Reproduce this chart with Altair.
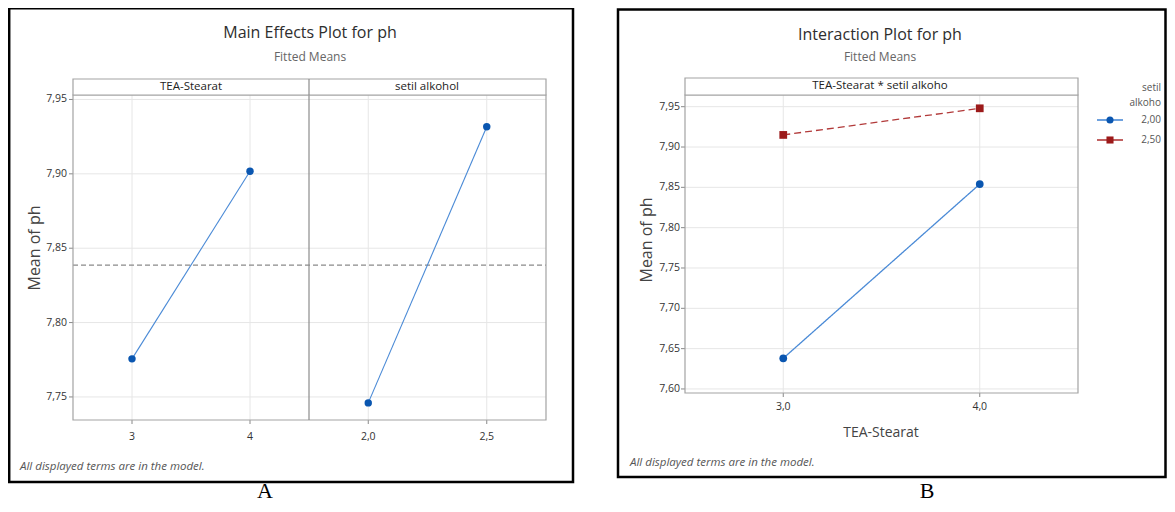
import altair as alt
import pandas as pd

# ---------------- data ----------------
tea_levels = [3, 4]
tea_means = [7.7756, 7.9017]
setil_levels = [2.0, 2.5]
setil_means = [7.7460, 7.9316]
grand_mean = [7.8386]

inter_x = [3, 4]
series_names = ["2,00", "2,50"]
series_200 = [7.638, 7.854]
series_250 = [7.915, 7.948]

a_y_ticks = [7.75, 7.80, 7.85, 7.90, 7.95]
a_y_labels = ["7,75", "7,80", "7,85", "7,90", "7,95"]
tea_ticks = [3, 4]
tea_tick_labels = ["3", "4"]
setil_ticks = [2.0, 2.5]
setil_tick_labels = ["2,0", "2,5"]
b_y_ticks = [7.60, 7.65, 7.70, 7.75, 7.80, 7.85, 7.90, 7.95]
b_y_labels = ["7,60", "7,65", "7,70", "7,75", "7,80", "7,85", "7,90", "7,95"]
b_x_ticks = [3, 4]
b_x_labels = ["3,0", "4,0"]

# ---------------- layout (reference pixel coords) ----------------
OFF = 8
def px(v):
    return v - OFF

W, H = 1159, 496
SANS = "Open Sans"
SERIF = "Liberation Serif"

A_L, A_MID, A_R, A_TOP, A_BOT = 73, 309, 546, 95, 420
B_L, B_R, B_TOP, B_BOT = 685, 1078, 95, 393

ya = alt.Scale(domain=[7.7345, 7.953], range=[px(A_BOT), px(A_TOP)], nice=False, zero=False)
xa1 = alt.Scale(domain=[2.5, 4.5], range=[px(A_L), px(A_MID)], nice=False, zero=False)
xa2 = alt.Scale(domain=[1.75, 2.75], range=[px(A_MID), px(A_R)], nice=False, zero=False)
yb = alt.Scale(domain=[7.595, 7.9645], range=[px(B_BOT), px(B_TOP)], nice=False, zero=False)
xb = alt.Scale(domain=[2.5, 4.5], range=[px(B_L), px(B_R)], nice=False, zero=False)

GRID = "#e6e6e6"
FRAME = "#a3a3a3"


def one():
    return alt.Chart(pd.DataFrame({"k": [0]}))


def txt(t, x, y, size, font=SANS, color="#333333", align="center", angle=None, style=None):
    kw = dict(text=t, fontSize=size, font=font, color=color, align=align, baseline="middle")
    if angle is not None:
        kw["angle"] = angle
    if style is not None:
        kw["fontStyle"] = style
    return one().mark_text(**kw).encode(x=alt.value(px(x)), y=alt.value(px(y)))


def box(x1, y1, x2, y2, stroke, sw, fill=None):
    kw = dict(stroke=stroke, strokeWidth=sw)
    if fill is None:
        kw["fill"] = "white"
        kw["fillOpacity"] = 0
    else:
        kw["fill"] = fill
    return one().mark_rect(**kw).encode(
        x=alt.value(px(x1)), x2=alt.value(px(x2)), y=alt.value(px(y1)), y2=alt.value(px(y2)))


def seg(x1, y1, x2, y2, color, sw, dash=None):
    kw = dict(color=color, strokeWidth=sw)
    if dash is not None:
        kw["strokeDash"] = dash
    return one().mark_rule(**kw).encode(
        x=alt.value(px(x1)), x2=alt.value(px(x2)), y=alt.value(px(y1)), y2=alt.value(px(y2)))


def ygrid(ticks, labels, yscale, xl, xr, lab_x):
    df = pd.DataFrame({"v": ticks, "lab": labels})
    base = alt.Chart(df)
    g = base.mark_rule(color=GRID, strokeWidth=1).encode(
        y=alt.Y("v:Q", scale=yscale, axis=None), x=alt.value(px(xl)), x2=alt.value(px(xr)))
    t = base.mark_rule(color="#888888", strokeWidth=1).encode(
        y=alt.Y("v:Q", scale=yscale, axis=None), x=alt.value(px(xl - 4)), x2=alt.value(px(xl)))
    l = base.mark_text(align="right", baseline="middle", fontSize=10.5, font=SANS, color="#333333").encode(
        y=alt.Y("v:Q", scale=yscale, axis=None), x=alt.value(px(lab_x)), text="lab:N")
    return [g, t, l]


def xgrid(ticks, labels, xscale, yt, yb_, lab_y):
    df = pd.DataFrame({"v": ticks, "lab": labels})
    base = alt.Chart(df)
    g = base.mark_rule(color=GRID, strokeWidth=1).encode(
        x=alt.X("v:Q", scale=xscale, axis=None), y=alt.value(px(yt)), y2=alt.value(px(yb_)))
    t = base.mark_rule(color="#888888", strokeWidth=1).encode(
        x=alt.X("v:Q", scale=xscale, axis=None), y=alt.value(px(yb_)), y2=alt.value(px(yb_ + 4)))
    l = base.mark_text(align="center", baseline="middle", fontSize=10.5, font=SANS, color="#333333").encode(
        x=alt.X("v:Q", scale=xscale, axis=None), y=alt.value(px(lab_y)), text="lab:N")
    return [g, t, l]


layers = []

# outer frames
layers.append(box(9.2, 8.2, 573, 482, "black", 2.5))
layers.append(box(618, 9.5, 1165.5, 477, "black", 2.5))

# ---------------- panel A ----------------
layers += ygrid(a_y_ticks, a_y_labels, ya, A_L, A_R, 67)
layers += xgrid(tea_ticks, tea_tick_labels, xa1, A_TOP, A_BOT, 437)
layers += xgrid(setil_ticks, setil_tick_labels, xa2, A_TOP, A_BOT, 437)

df_mean = pd.DataFrame({"m": grand_mean})
layers.append(alt.Chart(df_mean).mark_rule(color="#8a8a8a", strokeWidth=1.2, strokeDash=[5, 3]).encode(
    y=alt.Y("m:Q", scale=ya, axis=None), x=alt.value(px(A_L)), x2=alt.value(px(A_R))))

layers.append(box(A_L, A_TOP, A_R, A_BOT, FRAME, 1.2))
layers.append(seg(A_MID, 79, A_MID, A_BOT, "#8c8c8c", 1.2))
layers.append(box(A_L, 79, A_R, A_TOP, FRAME, 1.2, fill="white"))
layers.append(seg(A_MID, 79, A_MID, A_TOP, "#8c8c8c", 1.2))

df_a1 = pd.DataFrame({"x": tea_levels, "y": tea_means})
df_a2 = pd.DataFrame({"x": setil_levels, "y": setil_means})
for df, xs in ((df_a1, xa1), (df_a2, xa2)):
    base = alt.Chart(df).encode(x=alt.X("x:Q", scale=xs, axis=None), y=alt.Y("y:Q", scale=ya, axis=None))
    layers.append(base.mark_line(color="#4a8ad6", strokeWidth=1.1))
    layers.append(base.mark_point(filled=True, shape="circle", size=55, color="#0a56b0", opacity=1))

layers.append(txt("Main Effects Plot for ph", 310, 33, 16, color="#2e2e2e"))
layers.append(txt("Fitted Means", 310, 57, 12, color="#666666"))
layers.append(txt("TEA-Stearat", 191, 87, 11.5, color="#222222"))
layers.append(txt("setil alkohol", 427, 87, 11.5, color="#222222"))
layers.append(txt("Mean of ph", 35, 248, 16, color="#444444", angle=270))
layers.append(txt("All displayed terms are in the model.", 20, 467, 11.5, color="#555555", align="left", style="italic"))
layers.append(txt("A", 265, 491, 22, font=SERIF, color="black"))

# ---------------- panel B ----------------
layers += ygrid(b_y_ticks, b_y_labels, yb, B_L, B_R, 680)
layers += xgrid(b_x_ticks, b_x_labels, xb, B_TOP, B_BOT, 407)
layers.append(box(B_L, B_TOP, B_R, B_BOT, FRAME, 1.2))
layers.append(box(B_L, 78, B_R, B_TOP, FRAME, 1.2, fill="white"))

df_b = pd.DataFrame({
    "x": inter_x * 2,
    "y": series_200 + series_250,
    "s": [series_names[0]] * len(inter_x) + [series_names[1]] * len(inter_x),
})
line_colors = ["#4a8ad6", "#b23a3a"]
point_colors = ["#0a56b0", "#9c1a1a"]
shapes = ["circle", "square"]
baseb = alt.Chart(df_b).encode(x=alt.X("x:Q", scale=xb, axis=None), y=alt.Y("y:Q", scale=yb, axis=None))
layers.append(baseb.mark_line(strokeWidth=1.3).encode(
    color=alt.Color("s:N", scale=alt.Scale(domain=series_names, range=line_colors), legend=None),
    strokeDash=alt.StrokeDash("s:N", scale=alt.Scale(domain=series_names, range=[[1, 0], [7, 4]]), legend=None),
    detail="s:N"))
layers.append(baseb.mark_point(filled=True, size=60, opacity=1).encode(
    color=alt.Color("s:N", scale=alt.Scale(domain=series_names, range=point_colors), legend=None),
    shape=alt.Shape("s:N", scale=alt.Scale(domain=series_names, range=shapes), legend=None)))

# legend (drawn by hand)
leg_rows = [120, 140]
for i, name in enumerate(series_names):
    yy = leg_rows[i]
    layers.append(seg(1097, yy, 1123, yy, line_colors[i], 1.6))
    layers.append(one().mark_point(filled=True, size=50, opacity=1, shape=shapes[i], color=point_colors[i]).encode(
        x=alt.value(px(1110)), y=alt.value(px(yy))))
    layers.append(txt(name, 1161, yy, 10, color="#555555", align="right"))
layers.append(txt("setil", 1161, 88, 10, color="#555555", align="right"))
layers.append(txt("alkoho", 1161, 103, 10, color="#555555", align="right"))

layers.append(txt("Interaction Plot for ph", 880, 35, 16, color="#2e2e2e"))
layers.append(txt("Fitted Means", 880, 57, 12, color="#666666"))
layers.append(txt("TEA-Stearat * setil alkoho", 880, 86, 11.5, color="#222222"))
layers.append(txt("TEA-Stearat", 881, 433, 14, color="#444444"))
layers.append(txt("Mean of ph", 647, 240, 16, color="#444444", angle=270))
layers.append(txt("All displayed terms are in the model.", 630, 463, 11.5, color="#555555", align="left", style="italic"))
layers.append(txt("B", 927, 491, 22, font=SERIF, color="black"))

chart = alt.layer(*layers).resolve_scale(
    x="independent", y="independent", color="independent", shape="independent", strokeDash="independent"
).properties(
    width=W, height=H, autosize=alt.AutoSizeParams(type="none"), padding=0, background="white"
).configure_view(strokeWidth=0)

chart.save("out.html", embed_options={"renderer": "svg", "actions": False})
